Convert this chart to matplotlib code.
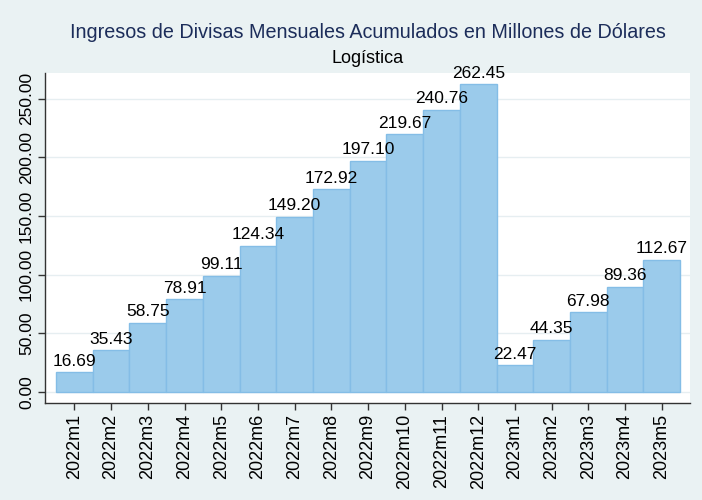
import matplotlib
matplotlib.use("Agg")
import matplotlib.pyplot as plt
import numpy as np

months = ["2022m1", "2022m2", "2022m3", "2022m4", "2022m5", "2022m6", "2022m7", "2022m8",
          "2022m9", "2022m10", "2022m11", "2022m12", "2023m1", "2023m2", "2023m3", "2023m4", "2023m5"]
values = [16.69, 35.43, 58.75, 78.91, 99.11, 124.34, 149.20, 172.92,
          197.10, 219.67, 240.76, 262.45, 22.47, 44.35, 67.98, 89.36, 112.67]
yticks = [0, 50, 100, 150, 200, 250]

plt.rcParams["font.family"] = ["Liberation Sans", "DejaVu Sans"]

bg = "#eaf2f3"
fig = plt.figure(figsize=(7.02, 5.0), dpi=100, facecolor=bg)
ax = fig.add_axes([0.0641, 0.1946, 0.9189, 0.6594])
ax.set_facecolor("white")

x = np.arange(len(values))
ax.bar(x, values, width=1.0, color="#9bcbeb", edgecolor="#84bde6", linewidth=1.0, zorder=2)
for xi, v in zip(x, values):
    ax.text(xi, v + 3, f"{v:.2f}", ha="center", va="bottom", fontsize=12.5, color="black", zorder=3)

ax.set_xlim(-0.8, len(values) - 0.23)
ax.set_ylim(-9.4, 272)
ax.set_yticks(yticks)
ax.set_yticklabels([f"{t:.2f}" for t in yticks], rotation=90, va="center", fontsize=12.5)
ax.set_xticks(x)
ax.set_xticklabels(months, rotation=90, fontsize=13)
ax.tick_params(axis="both", length=5, width=1, color="#333333", pad=3)
ax.grid(axis="y", color="#e6eef1", linewidth=1.0, zorder=0)
ax.set_axisbelow(True)
for s in ["top", "right"]:
    ax.spines[s].set_visible(False)
for s in ["left", "bottom"]:
    ax.spines[s].set_color("#333333")
    ax.spines[s].set_linewidth(1.0)

fig.text(0.5235, 0.934, "Ingresos de Divisas Mensuales Acumulados en Millones de Dólares",
         ha="center", va="center", fontsize=14.2, color="#1c2d5a")
fig.text(0.5235, 0.883, "Logística", ha="center", va="center", fontsize=13, color="black")

fig.savefig("out.png", dpi=100, facecolor=bg)
